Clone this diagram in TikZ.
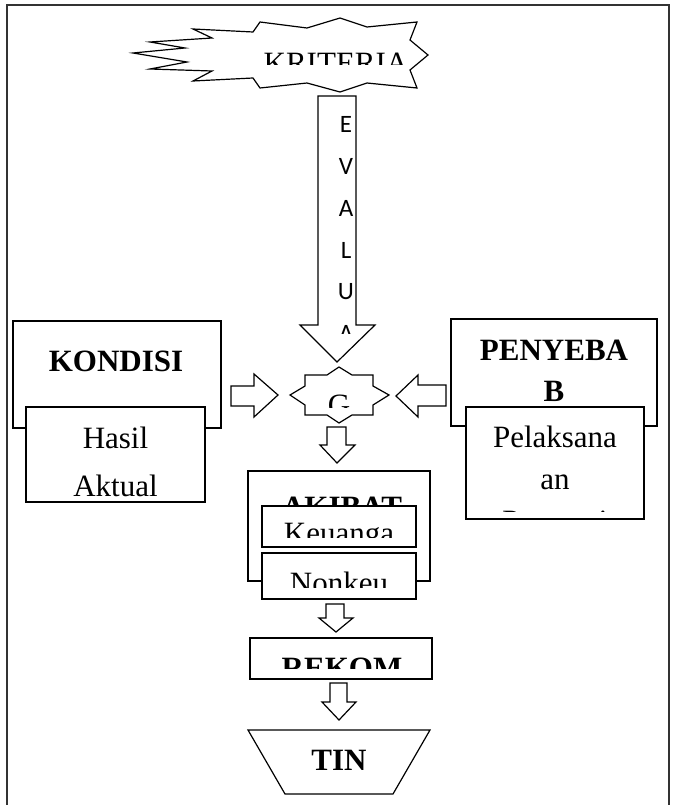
\documentclass[tikz,border=0pt]{standalone}
\usepackage{fontspec}
\setmainfont{Liberation Serif}
\newfontfamily\calfont{Carlito}
\begin{document}
\begin{tikzpicture}[x=1pt,y=-1pt,
  shp/.style={draw=black, line width=1.2pt, fill=white, line join=miter},
  frm/.style={draw=black!80, line width=2pt},
  tx/.style={inner sep=0pt, anchor=base, font=\fontsize{31}{37}\selectfont},
  btx/.style={inner sep=0pt, anchor=base, font=\fontsize{31}{37}\selectfont\bfseries},
  ev/.style={inner sep=0pt, anchor=base, font=\calfont\fontsize{25}{30}\selectfont}]
\useasboundingbox (0,0) rectangle (672,805);
% frame
\draw[frm] (7,806) -- (7,5) -- (669,5) -- (669,806);

% KRITERIA explosion
\draw[shp] (253,32) -- (260,22) -- (307,28) -- (340,18) -- (367,27) -- (417,22)
  -- (410,40) -- (428,55) -- (410,70) -- (417,88)
  -- (367,83) -- (340,92) -- (307,83) -- (260,88) -- (253,78) -- (193,81)
  -- (212,71) -- (150,69) -- (187,62) -- (133,53) -- (185,48) -- (150,42)
  -- (212,38) -- (193,29) -- cycle;
\begin{scope}
  \clip (200,40) rectangle (430,65);
  \node[tx] (krit) at (336,73.5) {KRITERIA};
\end{scope}

% EVALUASI arrow
\draw[shp] (318,96) -- (356,96) -- (356,325) -- (375,325) -- (337,362)
  -- (300,325) -- (318,325) -- cycle;
\begin{scope}
  \clip (310,100) rectangle (380,333);
  \node[ev] (e1) at (346,133) {E};
  \node[ev] (e2) at (346,174.7) {V};
  \node[ev] (e3) at (346,216.4) {A};
  \node[ev] (e4) at (346,258.1) {L};
  \node[ev] (e5) at (346,299.8) {U};
  \node[ev] (e6) at (346,341.5) {A};
\end{scope}

% KONDISI
\draw[shp] (13,321) rectangle (221,428);
\node[btx] (kond) at (116,371) {KONDISI};
\draw[shp] (26,407) rectangle (205,502);
\node[tx] (has1) at (115.5,448) {Hasil};
\node[tx] (has2) at (115.5,496.5) {Aktual};

% PENYEBAB
\draw[shp] (451,319) rectangle (657,426);
\node[btx] (pen1) at (554,360) {PENYEBA};
\node[btx] (pen2) at (554,401) {B};
\draw[shp] (466,407) rectangle (644,519);
\node[tx] (pel1) at (555,447) {Pelaksana};
\node[tx] (pel2) at (555,489) {an};
\begin{scope}
  \clip (470,410) rectangle (640,511);
  \node[tx] (pel3) at (555,531) {Pegawai};
\end{scope}

% side arrows
\draw[shp] (231,386) -- (254,386) -- (254,374) -- (278,395) -- (254,417)
  -- (254,406) -- (231,406) -- cycle;
\draw[shp] (446,385) -- (418,385) -- (418,375) -- (396,396) -- (418,417)
  -- (418,406) -- (446,406) -- cycle;

% G star
\draw[shp] (305,375) -- (327,375) -- (339,367) -- (352,375) -- (373,375)
  -- (373,386) -- (389,395) -- (373,405) -- (373,415) -- (352,415)
  -- (339,423) -- (327,415) -- (305,415) -- (305,405) -- (290,395)
  -- (305,386) -- cycle;
\begin{scope}
  \clip (300,380) rectangle (380,407);
  \node[tx] (g) at (339,415.5) {G};
\end{scope}

% arrow G -> AKIBAT
\draw[shp] (327,427) -- (346,427) -- (346,445) -- (355,445) -- (337,463)
  -- (320,445) -- (327,445) -- cycle;

% AKIBAT
\draw[shp] (248,471) rectangle (430,581);
\begin{scope}
  \clip (250,473) rectangle (428,505);
  \node[btx] (akb) at (342,517.5) {AKIBAT};
\end{scope}
\draw[shp] (262,506) rectangle (416,547);
\begin{scope}
  \clip (264,508) rectangle (414,537);
  \node[tx] (keu) at (339,543.5) {Keuanga};
\end{scope}
\draw[shp] (262,553) rectangle (416,599);
\begin{scope}
  \clip (264,555) rectangle (414,587);
  \node[tx] (nkeu) at (339,593.5) {Nonkeu};
\end{scope}

% arrow -> REKOM
\draw[shp] (326,604) -- (344,604) -- (344,618) -- (353,618) -- (336,632)
  -- (319,618) -- (326,618) -- cycle;

% REKOM
\draw[shp] (250,638) rectangle (432,679);
\begin{scope}
  \clip (252,640) rectangle (430,668);
  \node[btx] (rek) at (342,678.5) {REKOM};
\end{scope}

% arrow -> TIN
\draw[shp] (330,683) -- (347,683) -- (347,702) -- (356,702) -- (339,720)
  -- (322,702) -- (330,702) -- cycle;

% TIN trapezoid
\draw[shp] (248,730) -- (430,730) -- (393,794) -- (285,794) -- cycle;
\node[btx] (tin) at (339,770) {TIN};
\end{tikzpicture}
\end{document}
